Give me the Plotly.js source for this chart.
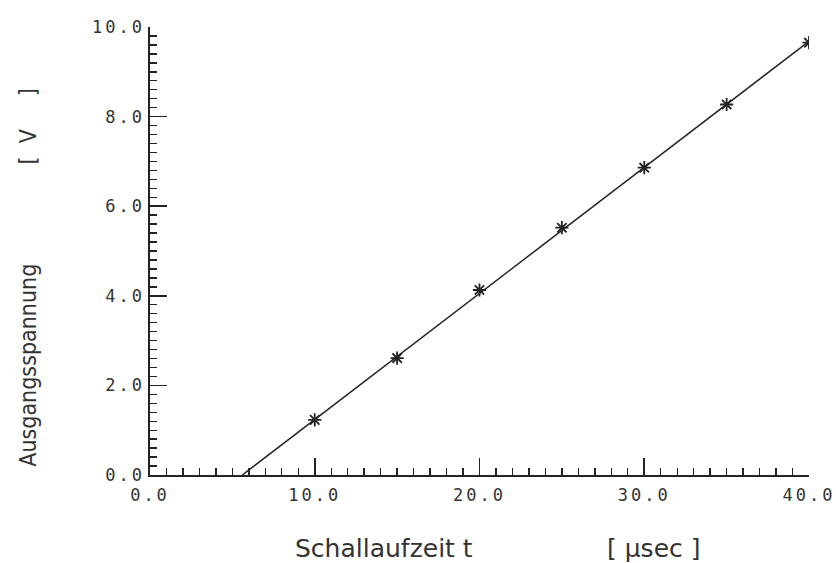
<!DOCTYPE html>
<html>
<head>
<meta charset="utf-8">
<script src="https://cdn.plot.ly/plotly-3.0.1.min.js"></script>
<style>
html,body{margin:0;padding:0;background:#fff;}
#chart{width:836px;height:563px;}
.xtick text,.ytick text{letter-spacing:3px;}
</style>
</head>
<body>
<div id="chart"></div>
<script>
// measured points: Schallaufzeit t [µsec] vs Ausgangsspannung [V]
var timeUs = [10, 15, 20, 25, 30, 35, 40];
var voltage = [1.23, 2.61, 4.13, 5.52, 6.86, 8.27, 9.65];
// fitted straight line (endpoints)
var fitX = [5.6, 40];
var fitY = [0, 9.68];
var xTicks = [0, 10, 20, 30, 40];
var yTicks = [0, 2, 4, 6, 8, 10];

var ink = '#222';
var tickFont = {family: 'DejaVu Sans Mono, monospace', size: 17, color: '#333'};

var traces = [
  {x: fitX, y: fitY, mode: 'lines', line: {color: ink, width: 1.5}, hoverinfo: 'skip'},
  {x: timeUs, y: voltage, mode: 'markers',
   marker: {symbol: 'asterisk-open', size: 11, color: ink, line: {color: ink, width: 1.8}}}
];

var layout = {
  width: 836, height: 563,
  margin: {l: 150, r: 27, t: 27, b: 88},
  paper_bgcolor: '#fff', plot_bgcolor: '#fff',
  showlegend: false,
  xaxis: {
    range: [0, 40], tickvals: xTicks, tickformat: '.1f',
    showgrid: false, zeroline: false,
    showline: true, linecolor: ink, linewidth: 1.6,
    ticks: 'inside', ticklen: 17, tickwidth: 1.6, tickcolor: ink,
    minor: {dtick: 1, ticks: 'inside', ticklen: 7, tickwidth: 1.4, tickcolor: ink, showgrid: false},
    tickfont: tickFont, ticklabelstandoff: 4
  },
  yaxis: {
    range: [0, 10], tickvals: yTicks, tickformat: '.1f',
    showgrid: false, zeroline: false,
    showline: true, linecolor: ink, linewidth: 1.6,
    ticks: 'inside', ticklen: 17, tickwidth: 1.6, tickcolor: ink,
    minor: {dtick: 0.2, ticks: 'inside', ticklen: 7, tickwidth: 1.4, tickcolor: ink, showgrid: false},
    tickfont: tickFont, ticklabelstandoff: 0
  },
  annotations: [
    {text: 'Schallaufzeit t', xref: 'paper', yref: 'paper', x: 0.217, y: -0.163,
     xanchor: 'left', yanchor: 'middle', showarrow: false,
     font: {family: 'DejaVu Sans', size: 25, color: '#333'}},
    {text: '[ µsec ]', xref: 'paper', yref: 'paper', x: 0.69, y: -0.163,
     xanchor: 'left', yanchor: 'middle', showarrow: false,
     font: {family: 'DejaVu Sans', size: 25, color: '#333'}},
    {text: 'Ausgangsspannung', xref: 'paper', yref: 'paper', x: -0.185, y: 0.244,
     xanchor: 'center', yanchor: 'middle', textangle: -90, showarrow: false,
     font: {family: 'DejaVu Sans Condensed, DejaVu Sans', size: 23, color: '#333'}},
    {text: '[&nbsp;&nbsp;V&nbsp;&nbsp;&nbsp;&nbsp;&nbsp;]', xref: 'paper', yref: 'paper', x: -0.185, y: 0.778,
     xanchor: 'center', yanchor: 'middle', textangle: -90, showarrow: false,
     font: {family: 'DejaVu Sans Condensed, DejaVu Sans', size: 23, color: '#333'}}
  ]
};

Plotly.newPlot('chart', traces, layout, {displayModeBar: false, staticPlot: true});
</script>
</body>
</html>
